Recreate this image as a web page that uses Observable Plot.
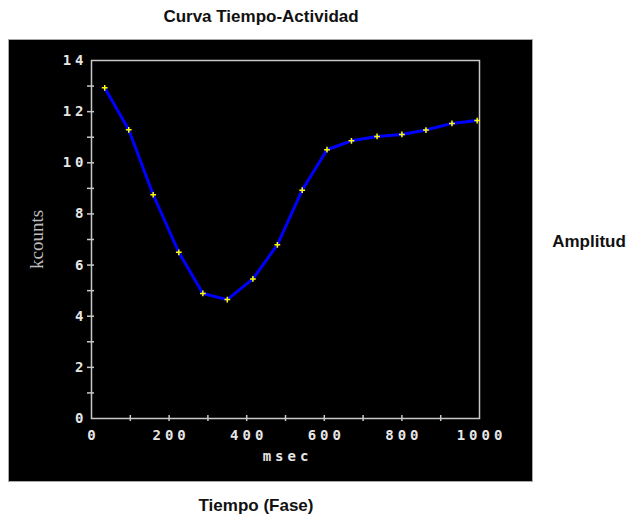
<!DOCTYPE html>
<html><head><meta charset="utf-8">
<script src="https://cdn.jsdelivr.net/npm/d3@7"></script>
<script src="https://cdn.jsdelivr.net/npm/@observablehq/plot@0.6"></script>
<style>
body{margin:0;background:#fff;}
#wrap{position:relative;width:634px;height:518px;overflow:hidden;font-family:"Liberation Sans",Arial,sans-serif;}
.lbl{position:absolute;font-weight:bold;color:#111;font-size:17px;white-space:nowrap;transform:translate(-50%,-50%);}
#panel{position:absolute;left:8px;top:39px;width:523px;height:441px;border:1px solid #a8a8a8;background:#000;}
#panel svg{display:block;background:#000;}
</style></head>
<body><div id="wrap">
<div class="lbl" style="left:261px;top:17px">Curva Tiempo-Actividad</div>
<div id="panel"></div>
<div class="lbl" style="left:589px;top:242px">Amplitud</div>
<div class="lbl" style="left:256px;top:506px">Tiempo (Fase)</div>
</div>
<script>
const msec    = [34, 96, 159, 225, 287, 350, 416, 479, 543, 607, 670, 736, 800, 862, 929, 994];
const kcounts = [12.93, 11.29, 8.75, 6.50, 4.89, 4.65, 5.46, 6.79, 8.93, 10.51, 10.86, 11.03, 11.11, 11.28, 11.54, 11.65];
const xTicks = [0, 200, 400, 600, 800, 1000];
const xMinorTicks = [100, 200, 300, 400, 500, 600, 700, 800, 900];
const yTicks = [0, 2, 4, 6, 8, 10, 12, 14];
const yMinorTicks = [1, 2, 3, 4, 5, 6, 7, 8, 9, 10, 11, 12, 13];
const xLabel = "msec";
const yLabel = "kcounts";

const data = msec.map((m, i) => ({msec: m, kcounts: kcounts[i]}));
const axisColor = "#c8c8c8";
const tickFont = "'DejaVu Sans Mono', monospace";
const spacing = 4;

const chart = Plot.plot({
  width: 523,
  height: 441,
  marginLeft: 82,
  marginTop: 20,
  marginRight: 53,
  marginBottom: 63,
  style: {background: "#000", color: axisColor, overflow: "visible"},
  x: {domain: [0, 1000]},
  y: {domain: [0, 14]},
  marks: [
    Plot.frame({stroke: axisColor, strokeWidth: 1.5}),
    Plot.ruleX(xMinorTicks, {x: d => d, y1: 0, y2: 0, insetTop: -3, insetBottom: -3, stroke: axisColor, strokeWidth: 1.5}),
    Plot.ruleY(yMinorTicks, {y: d => d, x1: 0, x2: 0, insetLeft: -4, insetRight: -3, stroke: axisColor, strokeWidth: 1.5}),
    Plot.axisX({ticks: xTicks, tickSize: 0, tickPadding: 12, fontFamily: tickFont, fontSize: 14, fontWeight: "bold",
      fill: "#e6e6e6", dx: spacing / 2, label: null, tickFormat: d => String(d)}),
    Plot.axisY({ticks: yTicks, tickSize: 0, tickPadding: 4, fontFamily: tickFont, fontSize: 14, fontWeight: "bold",
      fill: "#e6e6e6", label: null, tickFormat: d => String(d)}),
    Plot.text([xLabel], {frameAnchor: "bottom", dy: 42, text: d => d, fontFamily: tickFont, fontSize: 14,
      fontWeight: "bold", fill: "#e6e6e6", dx: spacing / 2}),
    Plot.text([yLabel], {frameAnchor: "left", textAnchor: "middle", dx: -55, rotate: -90, text: d => d,
      fontFamily: "'Liberation Serif', serif", fontSize: 19, fill: "#bdbdbd"}),
    Plot.line(data, {x: "msec", y: "kcounts", stroke: "#0000ff", strokeWidth: 3}),
    Plot.dot(data, {x: "msec", y: "kcounts", symbol: "plus", r: 2, stroke: "#ffff00", strokeWidth: 1.5})
  ]
});
chart.querySelectorAll("text").forEach(t => {
  const g = t.closest("g");
  if (t.getAttribute("font-family") === tickFont || (g && g.getAttribute("font-family") === tickFont)) {
    t.style.letterSpacing = spacing + "px";
  }
});
document.getElementById("panel").appendChild(chart);
</script>
</body></html>
